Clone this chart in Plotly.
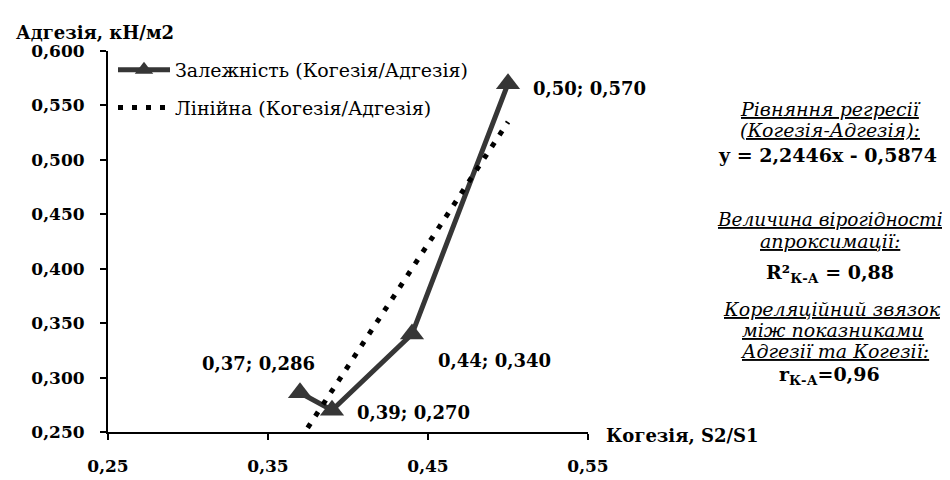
import numpy as np
import plotly.graph_objects as go

# ---- data ----
cohesion = [0.37, 0.39, 0.44, 0.50]          # Когезія, S2/S1
adhesion = [0.286, 0.270, 0.340, 0.570]      # Адгезія, кН/м2
series_name = "Залежність (Когезія/Адгезія)"
trend_name = "Лінійна (Когезія/Адгезія)"
x_ticks = [0.25, 0.35, 0.45, 0.55]
y_ticks = [0.25, 0.30, 0.35, 0.40, 0.45, 0.50, 0.55, 0.60]
r2_value = 0.88
r_value = 0.96

# ---- layout constants (pixels) ----
W, H = 950, 480
L, R, T, B = 100, 370, 43, 37
PW, PH = W - L - R, H - T - B
FONT = "DejaVu Serif"
DARK = "#363636"


def px(xp):
    return (xp - L) / PW


def py(yp):
    return (H - B - yp) / PH


def fmt(v, d):
    return f"{v:.{d}f}".replace(".", ",")


slope, intercept = np.polyfit(cohesion, adhesion, 1)
trend_x = [min(cohesion), max(cohesion)]
trend_y = [slope * v + intercept for v in trend_x]

fig = go.Figure()
fig.add_trace(go.Scatter(
    x=cohesion, y=adhesion, mode="lines+markers", name=series_name,
    line=dict(color=DARK, width=5),
    marker=dict(symbol="triangle-up", size=21, color=DARK),
    legendgroup="a", cliponaxis=False,
))
fig.add_trace(go.Scatter(
    x=trend_x, y=trend_y, mode="lines", name=trend_name,
    line=dict(color="black", width=5, dash="5px,9px"),
    legendgroup="b",
))

ann = []
# data labels
offsets = [("right", 17, 29), ("left", 23, -2), ("left", 24, -26), ("left", 23, -5)]
for xv, yv, (anc, dx, dy) in zip(cohesion, adhesion, offsets):
    ann.append(dict(x=xv, y=yv, xref="x", yref="y", text=f"<b>{fmt(xv, 2)}; {fmt(yv, 3)}</b>",
                    showarrow=False, xanchor=anc, yanchor="middle", xshift=dx, yshift=dy,
                    font=dict(family=FONT, size=18, color="black")))

# axis titles
ann.append(dict(x=px(6), y=py(24), xref="paper", yref="paper", text="<b>Адгезія, кН/м2</b>",
                showarrow=False, xanchor="left", yanchor="middle",
                font=dict(family=FONT, size=18, color="black")))
ann.append(dict(x=px(596), y=py(447), xref="paper", yref="paper", text="<b>Когезія, S2/S1</b>",
                showarrow=False, xanchor="left", yanchor="middle",
                font=dict(family=FONT, size=18, color="black")))

# right-side statistics block
eq = f"y = {fmt(slope, 4)}x - {fmt(abs(intercept), 4)}"
lines = [
    ("<i><u>Рівняння регресії</u></i>", 104, 19, 822),
    ("<i><u>(Когезія-Адгезія):</u></i>", 126, 19, 822),
    (f"<b>{eq}</b>", 152, 19, 819),
    ("<i><u>Величина вірогідності</u></i>", 220, 18.5, 822),
    ("<i><u>апроксимації:</u></i>", 242, 19, 822),
    (f"<b>R²<sub>К-А</sub> = {fmt(r2_value, 2)}</b>", 277, 19, 822),
    ("<i><u>Кореляційний звязок</u></i>", 314, 19, 824),
    ("<i><u>між показниками</u></i>", 336, 19, 825),
    ("<i><u>Адгезії та Когезії:</u></i>", 358, 19, 826),
    (f"<b>r<sub>К-А</sub>={fmt(r_value, 2)}</b>", 384, 19, 821),
]
for txt, yp, sz, xc in lines:
    ann.append(dict(x=px(xc), y=py(yp), xref="paper", yref="paper", text=txt,
                    showarrow=False, xanchor="center", yanchor="middle", borderpad=0,
                    font=dict(family=FONT, size=sz, color="black")))

axis_common = dict(showline=True, linecolor="black", linewidth=2, ticks="outside",
                   ticklen=6, tickwidth=2, tickcolor="black", showgrid=False, zeroline=False,
                   tickfont=dict(family=FONT, size=17, color="black"))

fig.update_layout(
    width=W, height=H, margin=dict(l=L, r=R, t=T, b=B),
    paper_bgcolor="white", plot_bgcolor="white",
    separators=", ",
    font=dict(family=FONT, color="black"),
    xaxis=dict(range=[0.25, 0.55], tickvals=x_ticks,
               ticktext=[f"<b>{fmt(v, 2)}</b>" for v in x_ticks],
               ticklabelstandoff=12, **axis_common),
    yaxis=dict(range=[0.25, 0.60], tickvals=y_ticks,
               ticktext=[f"<b>{fmt(v, 3)}</b>" for v in y_ticks],
               ticklabelstandoff=12, **axis_common),
    showlegend=True,
    legend=dict(x=px(105), y=py(43), xanchor="left", yanchor="top",
                bgcolor="rgba(0,0,0,0)", traceorder="grouped", tracegroupgap=10,
                itemwidth=52, font=dict(family=FONT, size=19, color="black")),
    annotations=ann,
)

fig.write_html("out.html")
